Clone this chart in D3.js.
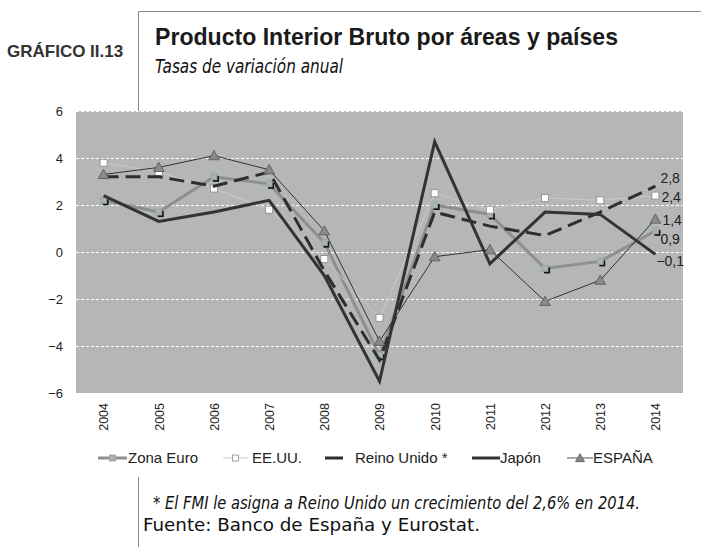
<!DOCTYPE html>
<html>
<head>
<meta charset="utf-8">
<script src="https://cdnjs.cloudflare.com/ajax/libs/d3/7.8.5/d3.min.js"></script>
<style>
  body { margin: 0; background: #fff; }
  svg { display: block; }
  .axis-label { font-family: "Liberation Sans", Arial, sans-serif; fill: #222; }
  .cond { font-family: "DejaVu Sans Condensed", "Liberation Sans Narrow", sans-serif; fill: #111; }
</style>
</head>
<body>
<div id="chart"></div>
<script>

// Data
var years      = ["2004", "2005", "2006", "2007", "2008", "2009", "2010", "2011", "2012", "2013", "2014"];
var zonaEuro   = [2.2, 1.7, 3.2, 2.9, 0.4, -4.4, 2.0, 1.6, -0.7, -0.4, 0.9];
var eeuu       = [3.8, 3.4, 2.7, 1.8, -0.3, -2.8, 2.5, 1.8, 2.3, 2.2, 2.4];
var reinoUnido = [3.2, 3.2, 2.8, 3.4, -0.8, -4.6, 1.7, 1.1, 0.7, 1.7, 2.8];
var japon      = [2.4, 1.3, 1.7, 2.2, -1.0, -5.5, 4.7, -0.5, 1.7, 1.6, -0.1];
var espana     = [3.3, 3.6, 4.1, 3.5, 0.9, -3.8, -0.2, 0.1, -2.1, -1.2, 1.4];
var yTicks     = [-6, -4, -2, 0, 2, 4, 6];
var seriesNames = ["Zona Euro", "EE.UU.", "Reino Unido *", "Japón", "ESPAÑA"];

var width = 701, height = 547;
var plot = {left: 76, right: 683, top: 111, bottom: 393};

var svg = d3.select("#chart").append("svg")
  .attr("width", width)
  .attr("height", height);

// Header
svg.append("path")
  .attr("d", "M138.5,111V11.5H701")
  .attr("fill", "none")
  .attr("stroke", "#888")
  .attr("stroke-width", 1);

svg.append("text")
  .attr("class", "axis-label")
  .attr("x", 7).attr("y", 57)
  .style("font-size", "17px")
  .style("font-weight", "bold")
  .style("fill", "#333")
  .text("GRÁFICO II.13");

svg.append("text")
  .attr("class", "axis-label")
  .attr("x", 155).attr("y", 45)
  .attr("textLength", 463)
  .attr("lengthAdjust", "spacingAndGlyphs")
  .style("font-size", "24px")
  .style("font-weight", "bold")
  .style("fill", "#1a1a1a")
  .text("Producto Interior Bruto por áreas y países");

svg.append("text")
  .attr("class", "cond")
  .attr("x", 155).attr("y", 73)
  .attr("textLength", 188)
  .attr("lengthAdjust", "spacingAndGlyphs")
  .style("font-size", "19px")
  .style("font-style", "italic")
  .text("Tasas de variación anual");

// Scales
var x = d3.scalePoint()
  .domain(years)
  .range([plot.left, plot.right])
  .padding(0.5);

var y = d3.scaleLinear()
  .domain([-6, 6])
  .range([plot.bottom, plot.top]);

// Plot background
svg.append("rect")
  .attr("x", plot.left)
  .attr("y", plot.top)
  .attr("width", plot.right - plot.left)
  .attr("height", plot.bottom - plot.top)
  .attr("fill", "#b5b6b8");

// Grid lines
svg.append("g")
  .selectAll("line")
  .data(yTicks.filter(function(d) { return d > -6; }))
  .enter().append("line")
  .attr("x1", plot.left)
  .attr("x2", plot.right)
  .attr("y1", function(d) { return Math.round(y(d)) + 0.5; })
  .attr("y2", function(d) { return Math.round(y(d)) + 0.5; })
  .attr("stroke", "#fff")
  .attr("stroke-width", 1)
  .attr("stroke-dasharray", "3,2");

// Axes
var yAxis = d3.axisLeft(y).tickValues(yTicks).tickSize(0).tickPadding(13);
svg.append("g")
  .attr("transform", "translate(" + plot.left + ",0)")
  .call(yAxis)
  .call(function(g) { g.select(".domain").remove(); })
  .selectAll("text")
  .attr("class", "axis-label")
  .attr("font-family", null)
  .style("font-size", "13px");

var xAxis = d3.axisBottom(x).tickSize(0).tickPadding(0);
svg.append("g")
  .attr("transform", "translate(0," + plot.bottom + ")")
  .call(xAxis)
  .call(function(g) { g.select(".domain").remove(); })
  .selectAll("text")
  .attr("class", "axis-label")
  .attr("font-family", null)
  .style("font-size", "12.5px")
  .attr("text-anchor", "end")
  .attr("transform", "rotate(-90)")
  .attr("x", -10)
  .attr("y", 0)
  .attr("dy", "0.35em");

// Lines
var line = d3.line()
  .x(function(d, i) { return x(years[i]); })
  .y(function(d) { return y(d); });

function drawLine(values, color, w, dash) {
  svg.append("path")
    .attr("d", line(values))
    .attr("fill", "none")
    .attr("stroke", color)
    .attr("stroke-width", w)
    .attr("stroke-linejoin", "miter")
    .attr("stroke-dasharray", dash || null);
}

function drawSquares(values, fill, stroke, size, shadow) {
  var g = svg.append("g");
  if (shadow) {
    g.selectAll(".shadow")
      .data(values)
      .enter().append("rect")
      .attr("x", function(d, i) { return x(years[i]) - size / 2 + 2; })
      .attr("y", function(d) { return y(d) - size / 2 + 2; })
      .attr("width", size).attr("height", size)
      .attr("fill", "#111");
  }
  g.selectAll(".mk")
    .data(values)
    .enter().append("rect")
    .attr("x", function(d, i) { return x(years[i]) - size / 2; })
    .attr("y", function(d) { return y(d) - size / 2; })
    .attr("width", size).attr("height", size)
    .attr("fill", fill)
    .attr("stroke", stroke)
    .attr("stroke-width", 0.8);
}

var triangle = d3.symbol().type(d3.symbolTriangle).size(50);

// Zona Euro
drawLine(zonaEuro, "#8f8f8f", 3);
drawSquares(zonaEuro, "#a9b2b2", "#9aa2a2", 6, true);

// EE.UU.
drawLine(eeuu, "#c9c9c9", 1);
drawSquares(eeuu, "#fff", "#888", 7, false);

// Reino Unido
drawLine(reinoUnido, "#2e2e2e", 3, "15,7");

// Japón
drawLine(japon, "#333", 3);

// España
drawLine(espana, "#333", 1);
svg.append("g")
  .selectAll("path")
  .data(espana)
  .enter().append("path")
  .attr("d", triangle)
  .attr("transform", function(d, i) { return "translate(" + x(years[i]) + "," + (y(d) + 1) + ")"; })
  .attr("fill", "#8a8a8a")
  .attr("stroke", "#555")
  .attr("stroke-width", 0.8);

// End labels (last value of each series)
var last = years.length - 1;
var endLabels = [
  {v: reinoUnido[last], dx: 5, dy: -8},
  {v: eeuu[last], dx: 6, dy: 1},
  {v: espana[last], dx: 7, dy: 1},
  {v: zonaEuro[last], dx: 5, dy: 8},
  {v: japon[last], dx: 1, dy: 7}
];
svg.append("g")
  .selectAll("text")
  .data(endLabels)
  .enter().append("text")
  .attr("class", "axis-label")
  .style("font-size", "14px")
  .attr("x", function(d) { return x(years[last]) + d.dx; })
  .attr("y", function(d) { return y(d.v) + d.dy; })
  .attr("dy", "0.35em")
  .text(function(d) { return d3.format(".1f")(d.v).replace(".", ","); });

// Legend
var ly = 458;
var legendItems = [
  {name: seriesNames[0], x0: 98, x1: 127, tx: 128, color: "#8f8f8f", w: 3, mark: "sq", fill: "#a9b2b2", stroke: "#9aa2a2"},
  {name: seriesNames[1], x0: 223, x1: 248, tx: 252, color: "#c9c9c9", w: 1, mark: "sq", fill: "#fff", stroke: "#888"},
  {name: seriesNames[2], x0: 325, x1: 343, tx: 355, color: "#2e2e2e", w: 3},
  {name: seriesNames[3], x0: 472, x1: 500, tx: 500, color: "#333", w: 3},
  {name: seriesNames[4], x0: 567, x1: 593, tx: 593, color: "#555", w: 1, mark: "tri", fill: "#8a8a8a", stroke: "#555"}
];

var legend = svg.append("g");
legendItems.forEach(function(d) {
  legend.append("line")
    .attr("x1", d.x0).attr("x2", d.x1)
    .attr("y1", ly).attr("y2", ly)
    .attr("stroke", d.color)
    .attr("stroke-width", d.w);
  var cx = (d.x0 + d.x1) / 2;
  if (d.mark == "sq") {
    legend.append("rect")
      .attr("x", cx - 3).attr("y", ly - 3)
      .attr("width", 6).attr("height", 6)
      .attr("fill", d.fill)
      .attr("stroke", d.stroke)
      .attr("stroke-width", 0.8);
  } else if (d.mark == "tri") {
    legend.append("path")
      .attr("d", d3.symbol().type(d3.symbolTriangle).size(36))
      .attr("transform", "translate(" + cx + "," + (ly + 1) + ")")
      .attr("fill", d.fill)
      .attr("stroke", d.stroke)
      .attr("stroke-width", 0.8);
  }
  legend.append("text")
    .attr("class", "axis-label")
    .attr("x", d.tx)
    .attr("y", ly)
    .attr("dy", "0.35em")
    .style("font-size", "15px")
    .text(d.name);
});

// Footnote
svg.append("line")
  .attr("x1", 138.5).attr("x2", 138.5)
  .attr("y1", 477).attr("y2", height)
  .attr("stroke", "#888");

svg.append("text")
  .attr("class", "cond")
  .attr("x", 153).attr("y", 509)
  .attr("textLength", 487)
  .attr("lengthAdjust", "spacingAndGlyphs")
  .style("font-size", "17px")
  .style("font-style", "italic")
  .text("* El FMI le asigna a Reino Unido un crecimiento del 2,6% en 2014.");

svg.append("text")
  .attr("class", "cond")
  .attr("x", 143).attr("y", 531)
  .attr("textLength", 337)
  .attr("lengthAdjust", "spacingAndGlyphs")
  .style("font-size", "17px")
  .text("Fuente: Banco de España y Eurostat.");

</script>
</body>
</html>
